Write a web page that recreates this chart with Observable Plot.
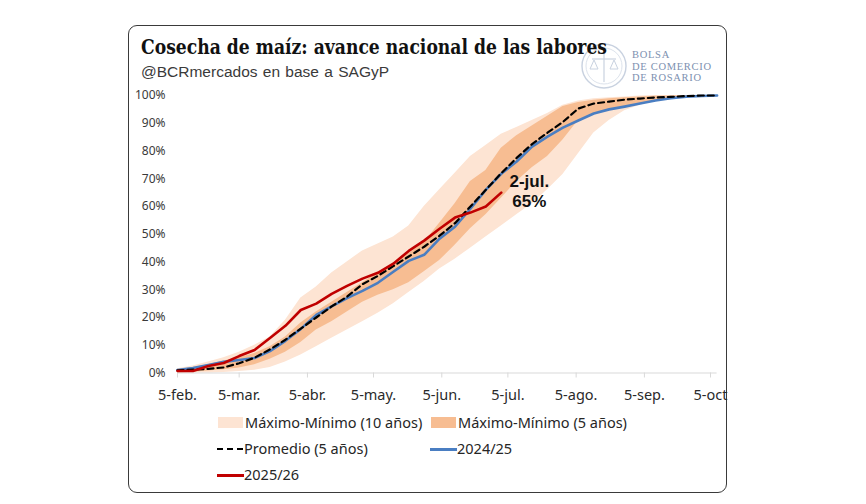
<!DOCTYPE html>
<html>
<head>
<meta charset="utf-8">
<script src="https://cdn.jsdelivr.net/npm/d3@7"></script>
<script src="https://cdn.jsdelivr.net/npm/@observablehq/plot@0.6"></script>
<style>
  html, body { margin: 0; padding: 0; background: #fff; }
  #wrap { position: relative; width: 866px; height: 504px; overflow: hidden; font-family: 'Noto Sans', sans-serif; }
  .abs { position: absolute; white-space: nowrap; }
  #frame { left: 128px; top: 25px; width: 597px; height: 466px; border: 1px solid #3a3a3a; border-radius: 9px; }
  #title { left: 141px; top: 35px; font-family: 'DejaVu Serif', serif; font-weight: bold; font-size: 20.5px; color: #111; transform-origin: 0 0; }
  #subtitle { left: 141px; top: 63px; font-family: 'Liberation Sans', Arial, sans-serif; font-size: 15.5px; color: #3a3a3a; word-spacing: 1px; }
  .logo { font-family: 'Liberation Serif', serif; font-size: 10.5px; line-height: 11.7px; height: 11.7px; color: #7d90b0; left: 632px; letter-spacing: 0.7px; }
  .leg { font-size: 14.5px; color: #262626; }
  .sw { position: absolute; }
</style>
</head>
<body>
<div id="wrap">
  <div id="frame" class="abs"></div>
  <svg class="abs" style="left:580px;top:42px" width="50" height="50">
    <circle cx="24" cy="24" r="22" fill="none" stroke="#c9d2e0" stroke-width="1.4"/>
    <circle cx="24" cy="24" r="18" fill="none" stroke="#dde3ec" stroke-width="1"/>
    <line x1="24" y1="9" x2="24" y2="40" stroke="#c9d2e0" stroke-width="1.2"/>
    <line x1="12" y1="17" x2="36" y2="17" stroke="#c9d2e0" stroke-width="1.2"/>
    <path d="M10 27 L14 18 L18 27 Z M30 27 L34 18 L38 27 Z" fill="none" stroke="#c9d2e0" stroke-width="1"/>
  </svg>
  <div class="abs logo" style="top:49px">BOLSA</div>
  <div class="abs logo" style="top:60.7px">DE COMERCIO</div>
  <div class="abs logo" style="top:72.4px">DE ROSARIO</div>
  <div id="title" class="abs">Cosecha de maíz: avance nacional de las labores</div>
  <div id="subtitle" class="abs">@BCRmercados en base a SAGyP</div>
  <div id="chart" class="abs" style="left:0;top:0"></div>
  <div id="legend"></div>
</div>
<script>
// Weekly observation dates (2026 calendar)
const weeks = ["02-05","02-12","02-19","02-26","03-05","03-12","03-19","03-26","04-02","04-09","04-16","04-23","04-30",
  "05-07","05-14","05-21","05-28","06-04","06-11","06-18","06-25","07-02","07-09","07-16","07-23","07-30",
  "08-06","08-13","08-20","08-27","09-03","09-10","09-17","09-24","10-01","10-08"];

// Máximo-Mínimo (10 años), % cosechado
const min10 = [0,0,0,0.2,0.5,1,2,4,6.5,9.5,12.5,15.5,18.5,21.5,25,29,33,37.5,41,45,49,53,57,61,66,71.5,79,86.5,91,94.5,96.5,98,99,99.5,100,100];
const max10 = [1.5,2.5,4,5.5,7.5,10,13,19,27,31,36,40,44,46.5,49,53,60,66,72,78,82,86,88.5,91,93.5,96.5,98,98.8,99.2,99.5,99.8,100,100,100,100,100];
// Máximo-Mínimo (5 años)
const min5 = [0,0.3,0.7,1.2,1.8,3,5,7.5,11,15.5,18.5,22,25.5,28,30,32.5,36.5,40.5,46,52,57,63,69,74,78,84,91,93.5,95,96,97.1,98.2,99,99.6,99.8,100];
const max5 = [1.2,2,3,4.3,5.5,7,9.5,13,18,22,25.5,29,32.5,36,39.5,43,47,54,61,69,73,81,85.5,89,92.5,96,97.5,98.3,98.8,99.2,99.5,99.7,99.8,100,100,100];
// Promedio (5 años)
const avg5 = [1,1.2,1.5,2,3.5,5.5,8.5,12,16,20,24,27.5,32,35,38.5,42,45.5,49.5,54,60,66,72,77.5,82.5,86.6,90.5,95.3,97.1,97.8,98.5,98.9,99.3,99.5,99.8,100,100];
// 2024/25
const s2425 = [1.1,1.8,2.9,4,4.7,5.4,7.9,11.6,15.9,20.9,24,27,29.6,32.5,36.5,40.4,42.6,48.4,52.7,59.2,66,71.8,76.2,81.6,85.2,88.4,91,93.5,95,96,97.1,98.2,99,99.6,99.8,100];
// 2025/26 (hasta 2-jul.)
const s2526 = [0.7,0.7,2.5,3.6,6.1,8.3,12.6,17,22.7,25,28.5,31.4,34,36.1,39.4,44,47.7,52,56,57.8,60,65];

// Axis ticks
const xTickDates = ["02-05","03-05","04-05","05-05","06-05","07-05","08-05","09-05","10-05"];
const xTickLabels = ["5-feb.","5-mar.","5-abr.","5-may.","5-jun.","5-jul.","5-ago.","5-sep.","5-oct"];
const yTicks = [0,10,20,30,40,50,60,70,80,90,100];
const annotationText = "2-jul.\n65%";

const toDate = s => new Date("2026-" + s + "T00:00:00Z");
const rows = weeks.map((w, i) => ({
  date: toDate(w), min10: min10[i], max10: max10[i], min5: min5[i], max5: max5[i],
  avg5: avg5[i], s2425: s2425[i], s2526: i < s2526.length ? s2526[i] : null
}));
const redRows = rows.filter(r => r.s2526 != null);
const lastRed = [redRows[redRows.length - 1]];
const tickMap = new Map(xTickDates.map((d, i) => [+toDate(d), xTickLabels[i]]));

const chart = Plot.plot({
  width: 866,
  height: 410,
  marginTop: 95,
  marginBottom: 37.5,
  marginLeft: 177,
  marginRight: 149.4,
  style: { fontFamily: "'Noto Sans', sans-serif", background: "transparent", overflow: "visible" },
  x: { type: "utc", domain: [toDate("02-05"), toDate("10-08")] },
  y: { domain: [0, 100] },
  marks: [
    Plot.areaY(rows, { x: "date", y1: "min10", y2: "max10", fill: "#fde4d3" }),
    Plot.areaY(rows, { x: "date", y1: "min5", y2: "max5", fill: "#f7bd92" }),
    Plot.ruleY([0], { stroke: "#d9d9d9", strokeWidth: 1 }),
    Plot.axisY({ ticks: yTicks, tickFormat: d => d + "%", tickSize: 0, tickPadding: 12, fontSize: 12, fill: "#3a3a3a", label: null }),
    Plot.axisX({ ticks: xTickDates.map(toDate), tickFormat: d => tickMap.get(+d), tickSize: 5, tickPadding: 12, stroke: "#d9d9d9", fill: "#2a2a2a", fontSize: 14.5, label: null }),
    Plot.line(rows, { x: "date", y: "s2425", stroke: "#4a7ec2", strokeWidth: 2.6 }),
    Plot.line(rows, { x: "date", y: "avg5", stroke: "#000", strokeWidth: 2.2, strokeDasharray: "6,4" }),
    Plot.line(redRows, { x: "date", y: "s2526", stroke: "#c00000", strokeWidth: 2.6 }),
    Plot.text(lastRed, { x: "date", y: "s2526", text: () => annotationText, dx: 28, dy: -2, fontSize: 17, fontWeight: "bold", fontFamily: "'Liberation Sans', Arial, sans-serif", fill: "#111", lineHeight: 1.2, textAnchor: "middle" })
  ]
});
document.getElementById("chart").appendChild(chart);

// Fit the title to the reference width
const title = document.getElementById("title");
const tw = title.getBoundingClientRect().width;
title.style.transform = "scaleX(" + (466 / tw) + ")";

// Legend
const legendItems = [
  { label: "Máximo-Mínimo (10 años)", type: "box", color: "#fde4d3", left: 218, top: 423 },
  { label: "Máximo-Mínimo (5 años)", type: "box", color: "#f7bd92", left: 431, top: 423 },
  { label: "Promedio (5 años)", type: "dash", color: "#000", left: 217, top: 449 },
  { label: "2024/25", type: "line", color: "#4a7ec2", left: 430, top: 449 },
  { label: "2025/26", type: "line", color: "#c00000", left: 217, top: 475 }
];
const leg = document.getElementById("legend");
for (const it of legendItems) {
  const sw = document.createElement("div");
  sw.className = "sw";
  if (it.type === "box") {
    Object.assign(sw.style, { left: it.left + "px", top: (it.top - 6) + "px", width: "25px", height: "11px", background: it.color });
  } else if (it.type === "dash") {
    Object.assign(sw.style, { left: it.left + "px", top: (it.top - 1) + "px", width: "26px", height: "0", borderTop: "2.2px dashed " + it.color });
  } else {
    Object.assign(sw.style, { left: it.left + "px", top: (it.top - 1) + "px", width: "27px", height: "2.6px", background: it.color });
  }
  leg.appendChild(sw);
  const t = document.createElement("div");
  t.className = "abs leg";
  t.textContent = it.label;
  Object.assign(t.style, { left: (it.left + 27) + "px", top: (it.top - 11) + "px" });
  leg.appendChild(t);
}
</script>
</body>
</html>
